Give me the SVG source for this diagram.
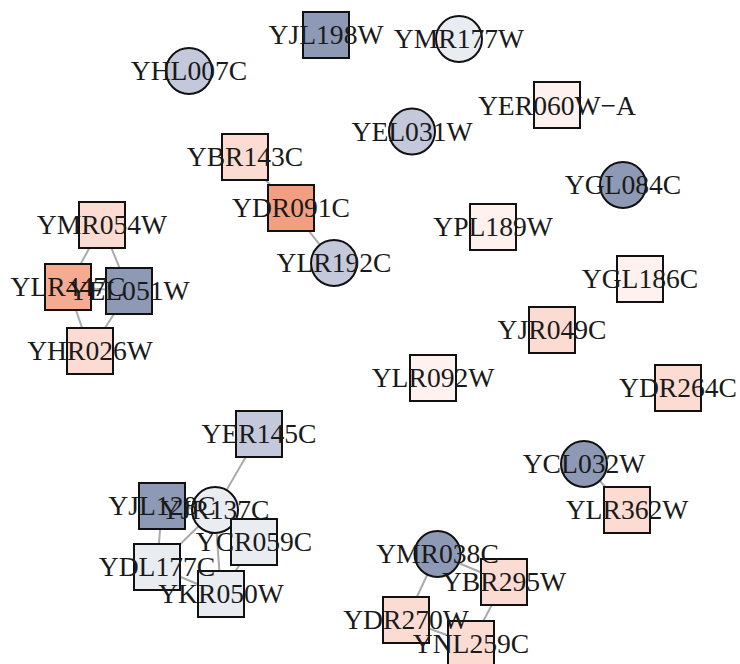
<svg xmlns="http://www.w3.org/2000/svg" width="740" height="664" viewBox="0 0 740 664">
<style>
.e{stroke:#aaaaaa;stroke-width:2;fill:none}
.n{stroke:#111;stroke-width:2}
.t{font-family:"Liberation Serif","Times New Roman",serif;font-size:27.6px;fill:#1a1a1a;text-anchor:middle}
.d{fill:#8e9ab5}.m{fill:#c3c8da}.l{fill:#e9ecf1}.p{fill:#fcdcd2}.v{fill:#fff1ee}.s{fill:#f29e81}.s2{fill:#f5ab92}
</style>
<rect width="740" height="664" fill="#fff"/>
<g id="edges">
<line class="e" x1="245" y1="157" x2="291" y2="208"/>
<line class="e" x1="291" y1="208" x2="334" y2="263"/>
<line class="e" x1="584" y1="464" x2="627" y2="510"/>
<line class="e" x1="102" y1="225" x2="68" y2="287"/>
<line class="e" x1="102" y1="225" x2="129" y2="291"/>
<line class="e" x1="68" y1="287" x2="90" y2="351"/>
<line class="e" x1="129" y1="291" x2="90" y2="351"/>
<line class="e" x1="68" y1="287" x2="129" y2="291"/>
<line class="e" x1="259" y1="434" x2="215" y2="510"/>
<line class="e" x1="162" y1="506" x2="215" y2="510"/>
<line class="e" x1="162" y1="506" x2="157" y2="567"/>
<line class="e" x1="157" y1="567" x2="215" y2="510"/>
<line class="e" x1="215" y1="510" x2="221" y2="594"/>
<line class="e" x1="254" y1="542" x2="221" y2="594"/>
<line class="e" x1="157" y1="567" x2="221" y2="594"/>
<line class="e" x1="437" y1="554" x2="504" y2="582"/>
<line class="e" x1="437" y1="554" x2="406" y2="620"/>
<line class="e" x1="504" y1="582" x2="471" y2="644"/>
<line class="e" x1="406" y1="620" x2="471" y2="644"/>
</g>
<g id="YJL198W"><rect class="n d" x="303" y="12" width="46" height="46"/></g>
<g id="YMR177W"><circle class="n l" cx="459" cy="39" r="23"/></g>
<g id="YHL007C"><circle class="n m" cx="189" cy="71" r="23"/></g>
<g id="YEL031W"><circle class="n m" cx="412" cy="131.5" r="23"/></g>
<g id="YER060W-A"><rect class="n v" x="534" y="82" width="46" height="46"/></g>
<g id="YBR143C"><rect class="n p" x="222" y="134" width="46" height="46"/></g>
<g id="YDR091C"><rect class="n s" x="268" y="185" width="46" height="46"/></g>
<g id="YLR192C"><circle class="n m" cx="334" cy="263" r="23"/></g>
<g id="YGL084C"><circle class="n d" cx="623" cy="185" r="23"/></g>
<g id="YPL189W"><rect class="n v" x="470" y="204" width="46" height="46"/></g>
<g id="YGL186C"><rect class="n v" x="617" y="256" width="46" height="46"/></g>
<g id="YJR049C"><rect class="n p" x="529" y="307" width="46" height="46"/></g>
<g id="YLR092W"><rect class="n v" x="410" y="355" width="46" height="46"/></g>
<g id="YDR264C"><rect class="n p" x="655" y="365" width="46" height="46"/></g>
<g id="YCL032W"><circle class="n d" cx="584" cy="464" r="23"/></g>
<g id="YLR362W"><rect class="n p" x="604" y="487" width="46" height="46"/></g>
<g id="YMR054W"><rect class="n p" x="79" y="202" width="46" height="46"/></g>
<g id="YLR447C"><rect class="n s2" x="45" y="264" width="46" height="46"/></g>
<g id="YEL051W"><rect class="n d" x="106" y="268" width="46" height="46"/></g>
<g id="YHR026W"><rect class="n p" x="67" y="328" width="46" height="46"/></g>
<g id="YER145C"><rect class="n m" x="236" y="411" width="46" height="46"/></g>
<g id="YJL128C"><rect class="n d" x="139" y="483" width="46" height="46"/></g>
<g id="YJR137C"><circle class="n l" cx="215" cy="510" r="23"/></g>
<g id="YCR059C"><rect class="n l" x="231" y="519" width="46" height="46"/></g>
<g id="YDL177C"><rect class="n l" x="134" y="544" width="46" height="46"/></g>
<g id="YKR050W"><rect class="n l" x="198" y="571" width="46" height="46"/></g>
<g id="YMR038C"><circle class="n d" cx="437.5" cy="554" r="23"/></g>
<g id="YBR295W"><rect class="n p" x="481" y="559" width="46" height="46"/></g>
<g id="YDR270W"><rect class="n p" x="383" y="597" width="46" height="46"/></g>
<g id="YNL259C"><rect class="n p" x="448" y="621" width="46" height="46"/></g>
<g id="labels">
<text class="t" x="326" y="44">YJL198W</text>
<text class="t" x="459" y="48">YMR177W</text>
<text class="t" x="189" y="80">YHL007C</text>
<text class="t" x="412" y="141">YEL031W</text>
<text class="t" x="557" y="115">YER060W−A</text>
<text class="t" x="245" y="166">YBR143C</text>
<text class="t" x="291" y="217">YDR091C</text>
<text class="t" x="334" y="272">YLR192C</text>
<text class="t" x="623" y="194">YGL084C</text>
<text class="t" x="493" y="236">YPL189W</text>
<text class="t" x="640" y="288">YGL186C</text>
<text class="t" x="552" y="339">YJR049C</text>
<text class="t" x="433" y="387">YLR092W</text>
<text class="t" x="678" y="397">YDR264C</text>
<text class="t" x="584" y="473">YCL032W</text>
<text class="t" x="627" y="519">YLR362W</text>
<text class="t" x="102" y="234">YMR054W</text>
<text class="t" x="68" y="296">YLR447C</text>
<text class="t" x="129" y="300">YEL051W</text>
<text class="t" x="90" y="360">YHR026W</text>
<text class="t" x="259" y="443">YER145C</text>
<text class="t" x="162" y="515">YJL128C</text>
<text class="t" x="215" y="519">YJR137C</text>
<text class="t" x="254" y="551">YCR059C</text>
<text class="t" x="157" y="576">YDL177C</text>
<text class="t" x="221" y="603">YKR050W</text>
<text class="t" x="437.5" y="563">YMR038C</text>
<text class="t" x="504" y="591">YBR295W</text>
<text class="t" x="406" y="629">YDR270W</text>
<text class="t" x="471" y="653">YNL259C</text>
</g>
</svg>
